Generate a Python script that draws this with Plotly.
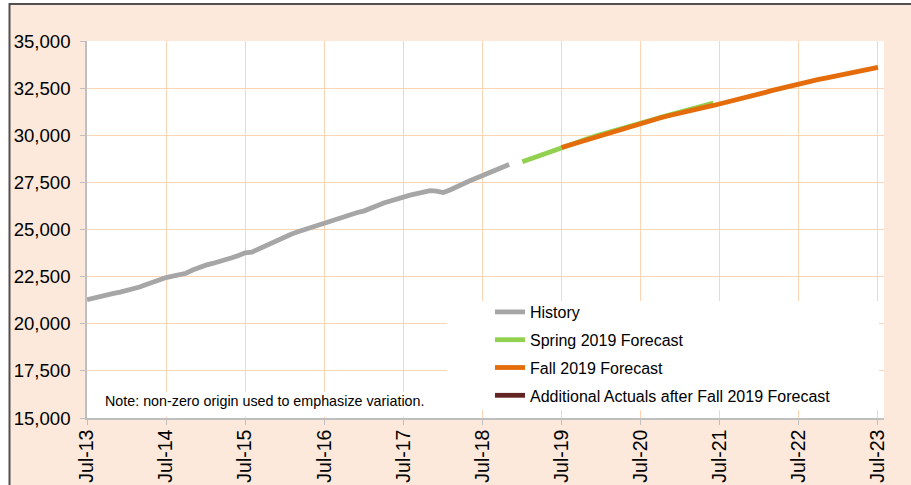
import pandas as pd
import plotly.graph_objects as go

# ---------------- data ----------------
history_start = "2013-07-01"
history = [21280, 21380, 21460, 21540, 21610, 21680, 21770, 21820, 21950, 22080, 22210, 22340,
           22450, 22530, 22600, 22680, 22850, 23010, 23110, 23200, 23280, 23390, 23500, 23620,
           23760, 23800, 23960, 24140, 24300, 24470, 24650, 24760, 24880, 25000, 25100, 25210,
           25360, 25430, 25580, 25730, 25850, 25900, 25990, 26110, 26260, 26410, 26520, 26620,
           26740, 26820, 26900, 27000, 27060, 27040, 26960, 27100, 27270, 27420, 27570, 27720,
           27860, 28030, 28160, 28300, 28450]

spring_start = "2019-01-01"
spring_2019 = [28600, 28730, 28860, 28990, 29120, 29250,
               29380, 29500, 29610, 29720, 29830, 29940, 30050, 30150, 30250, 30350, 30450, 30550,
               30650, 30750, 30850, 30950, 31050, 31150, 31250, 31350, 31440, 31530, 31620, 31710]

fall_start = "2019-07-01"
fall_2019 = [29350, 29460, 29570, 29680, 29790, 29900, 30000, 30110, 30220, 30330, 30440, 30550,
             30660, 30750, 30840, 30930, 31020, 31110, 31200, 31290, 31380, 31450, 31510, 31580,
             31660, 31750, 31840, 31930, 32020, 32110, 32200, 32290, 32380, 32470, 32560, 32650,
             32740, 32815, 32890, 32960, 33030, 33100, 33170, 33240, 33310, 33380, 33450, 33525,
             33600]

# no additional actuals yet (legend entry only)
additional_actuals = [None]

tick_dates = ["2013-07-01", "2014-07-01", "2015-07-01", "2016-07-01", "2017-07-01", "2018-07-01",
              "2019-07-01", "2020-07-01", "2021-07-01", "2022-07-01", "2023-07-01"]
tick_labels = ["Jul-13", "Jul-14", "Jul-15", "Jul-16", "Jul-17", "Jul-18",
               "Jul-19", "Jul-20", "Jul-21", "Jul-22", "Jul-23"]
y_ticks = [15000, 17500, 20000, 22500, 25000, 27500, 30000, 32500, 35000]

series_names = ["History", "Spring 2019 Forecast", "Fall 2019 Forecast",
                "Additional Actuals after Fall 2019 Forecast"]
note_text = "Note: non-zero origin used to emphasize variation."

# ---------------- styling ----------------
FONT = "Liberation Sans, Arial, sans-serif"
PEACH = "#FCE9DB"
GRID = "#FCD5B5"
AXIS = "#BFBFBF"
colors = ["#A6A6A6", "#92D050", "#E46C0A", "#632523"]

W, H = 911, 485
PL, PR, PT, PB = 87, 884, 41, 418


def px(x):
    return (x - PL) / (PR - PL)


def py(y):
    return (PB - y) / (PB - PT)


def months(start, n):
    return pd.date_range(start, periods=n, freq="MS")


fig = go.Figure()
series = [
    (months(history_start, len(history)), history),
    (months(spring_start, len(spring_2019)), spring_2019),
    (months(fall_start, len(fall_2019)), fall_2019),
    (months(fall_start, len(additional_actuals)), additional_actuals),
]
for i, ((xs, ys), name) in enumerate(zip(series, series_names)):
    fig.add_trace(go.Scatter(
        x=list(xs), y=ys, mode="lines", name=name,
        legendgroup=name,
        line=dict(color=colors[i], width=4.8, shape="linear"),
        hoverinfo="skip",
    ))

shapes = [
    # white margins outside the outer frame
    dict(type="rect", xref="paper", yref="paper", x0=px(-5), x1=px(9), y0=py(490), y1=py(-5),
         fillcolor="white", line=dict(width=0), layer="below"),
    dict(type="rect", xref="paper", yref="paper", x0=px(-5), x1=px(916), y0=py(3), y1=py(-5),
         fillcolor="white", line=dict(width=0), layer="below"),
    # frame lines
    dict(type="line", xref="paper", yref="paper", x0=px(9), x1=px(915), y0=py(4), y1=py(4),
         line=dict(color="#505050", width=2)),
    dict(type="line", xref="paper", yref="paper", x0=px(9.5), x1=px(9.5), y0=py(3), y1=py(490),
         line=dict(color="#505050", width=2)),
    # legend white box
    dict(type="rect", xref="paper", yref="paper", x0=px(447), x1=px(879), y0=py(410), y1=py(301),
         fillcolor="white", line=dict(width=0), layer="above"),
    # note white box
    dict(type="rect", xref="paper", yref="paper", x0=px(95), x1=px(436), y0=py(416.5), y1=py(392),
         fillcolor="white", line=dict(width=0), layer="above"),
]

fig.update_layout(
    width=W, height=H,
    margin=dict(l=PL, r=W - PR, t=PT, b=H - PB, pad=0, autoexpand=False),
    paper_bgcolor=PEACH,
    plot_bgcolor="white",
    font=dict(family=FONT, color="#000000", size=18),
    showlegend=True,
    legend=dict(
        x=px(490), y=py(295), xanchor="left", yanchor="top",
        bgcolor="rgba(0,0,0,0)", borderwidth=0,
        font=dict(family=FONT, size=16, color="#000000"),
        tracegroupgap=4, traceorder="grouped",
    ),
    shapes=shapes,
    annotations=[dict(
        text=note_text, xref="paper", yref="paper",
        x=px(103), y=py(401), xanchor="left", yanchor="middle",
        showarrow=False, font=dict(family=FONT, size=14.3, color="#000000"),
    )],
)

fig.update_xaxes(
    type="date",
    range=["2013-07-01", "2023-07-29"],
    tickmode="array", tickvals=tick_dates, ticktext=tick_labels,
    tickangle=-90,
    tickfont=dict(family=FONT, size=19.5, color="#000000"),
    showgrid=True, gridcolor=GRID, gridwidth=1.3,
    showline=True, linecolor=AXIS, linewidth=1.5,
    ticks="outside", ticklen=5, tickcolor=AXIS,
    ticklabelstandoff=-3,
    zeroline=False, fixedrange=True, automargin=False,
)
fig.update_yaxes(
    range=[15000, 35000],
    tickmode="array", tickvals=y_ticks, tickformat=",",
    tickfont=dict(family=FONT, size=18.6, color="#000000"),
    showgrid=True, gridcolor=GRID, gridwidth=1.3,
    showline=True, linecolor=AXIS, linewidth=1.5,
    ticks="outside", ticklen=5, tickcolor=AXIS,
    ticklabelstandoff=6,
    zeroline=False, fixedrange=True, automargin=False,
)

fig.write_html(
    "out.html",
    config={"displayModeBar": False},
    post_script="document.body.style.margin='0';document.body.style.overflow='hidden';",
)
